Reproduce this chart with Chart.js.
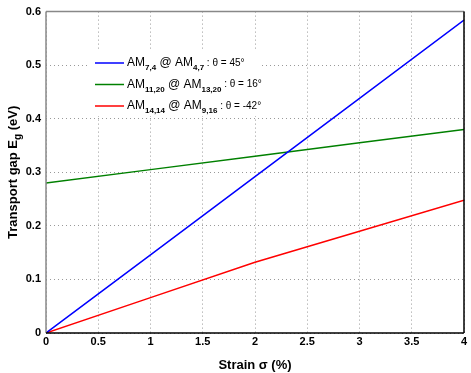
<!DOCTYPE html>
<html>
<head>
<meta charset="utf-8">
<script src="https://cdn.jsdelivr.net/npm/chart.js@4"></script>
<style>
  html, body { margin: 0; padding: 0; background: #fff; }
  #wrap { width: 471px; height: 373px; }
</style>
</head>
<body>
<div id="wrap"><canvas id="gap" width="471" height="373"></canvas></div>
<script>
// strain values (%)
const strain = [0, 1, 2, 3, 4];
// transport gap (eV)
const blueGap = [0, 0.146, 0.292, 0.438, 0.584];
const greenGap = [0.28, 0.305, 0.33, 0.355, 0.38];
const redGap = [0, 0.066, 0.132, 0.19, 0.248];

const xTicks = [0, 0.5, 1, 1.5, 2, 2.5, 3, 3.5, 4];
const yTicks = [0, 0.1, 0.2, 0.3, 0.4, 0.5, 0.6];

// legend entries: [main, sub, main, sub, tail]
const legendItems = [
  { color: "#0000ff", parts: ["AM", "7,4", " @ AM", "4,7", " : θ = 45°"] },
  { color: "#008000", parts: ["AM", "11,20", " @ AM", "13,20", " : θ = 16°"] },
  { color: "#ff0000", parts: ["AM", "14,14", " @ AM", "9,16", " : θ = -42°"] },
];

const font = "'Liberation Sans', Arial, sans-serif";

function pts(ys) {
  return strain.map((x, i) => ({ x: x, y: ys[i] }));
}

const extras = {
  id: "extras",
  afterDraw(chart) {
    const c = chart.ctx;
    const a = chart.chartArea;
    c.save();
    // frame top + right
    c.lineWidth = 1.5;
    c.strokeStyle = "#888";
    c.beginPath();
    c.moveTo(a.left, a.top);
    c.lineTo(a.right, a.top);
    c.stroke();
    c.beginPath();
    c.moveTo(a.left, a.top);
    c.lineTo(a.left, a.bottom);
    c.stroke();
    c.strokeStyle = "#000";
    c.beginPath();
    c.moveTo(a.right, a.top);
    c.lineTo(a.right, a.bottom);
    c.stroke();
    c.beginPath();
    c.moveTo(a.left, a.bottom);
    c.lineTo(a.right, a.bottom);
    c.stroke();

    // legend
    c.fillStyle = "#fff";
    c.fillRect(89, 50, 172, 66);
    let y = 63;
    legendItems.forEach(item => {
      c.strokeStyle = item.color;
      c.lineWidth = 1.5;
      c.beginPath();
      c.moveTo(95, y);
      c.lineTo(124, y);
      c.stroke();
      let x = 127;
      c.fillStyle = "#000";
      c.textBaseline = "middle";
      c.textAlign = "left";
      item.parts.forEach((p, i) => {
        const sub = i % 2 === 1;
        c.font = (sub ? "bold 8px " : "12px ") + font;
        if (i === 4) c.font = "10px " + font;
        c.fillText(p, x, sub ? y + 5 : y);
        x += c.measureText(p).width;
      });
      y += 21.5;
    });

    // y title with subscript
    c.translate(13, (a.top + a.bottom) / 2);
    c.rotate(-Math.PI / 2);
    c.textBaseline = "middle";
    const t1 = "Transport gap E";
    const t2 = "g";
    const t3 = " (eV)";
    c.font = "bold 13px " + font;
    const w1 = c.measureText(t1).width;
    const w3 = c.measureText(t3).width;
    c.font = "bold 10px " + font;
    const w2 = c.measureText(t2).width;
    let x0 = -(w1 + w2 + w3) / 2;
    c.font = "bold 13px " + font;
    c.fillText(t1, x0, 0);
    c.font = "bold 10px " + font;
    c.fillText(t2, x0 + w1, 5);
    c.font = "bold 13px " + font;
    c.fillText(t3, x0 + w1 + w2, 0);
    c.restore();
  }
};

new Chart(document.getElementById("gap"), {
  type: "line",
  data: {
    datasets: [
      { data: pts(blueGap), borderColor: "#0000ff" },
      { data: pts(greenGap), borderColor: "#008000" },
      { data: pts(redGap), borderColor: "#ff0000" },
    ].map(d => Object.assign(d, { borderWidth: 1.5, pointRadius: 0, tension: 0, fill: false })),
  },
  options: {
    responsive: false,
    animation: false,
    events: [],
    layout: { padding: { top: 7, right: 7, left: 0, bottom: 0 } },
    plugins: { legend: { display: false }, tooltip: { enabled: false } },
    scales: {
      x: {
        type: "linear",
        min: 0,
        max: 4,
        afterBuildTicks: s => { s.ticks = xTicks.map(v => ({ value: v })); },
        afterFit: s => { s.height = 40; },
        ticks: {
          color: "#000",
          font: { family: font, size: 11, weight: "bold" },
          padding: 2,
          maxRotation: 0,
          callback: v => String(v),
        },
        grid: { color: "#999", drawTicks: false, lineWidth: 1 },
        border: { display: false, dash: [1, 3] },
        title: {
          display: true,
          text: "Strain σ (%)",
          color: "#000",
          font: { family: font, size: 13, weight: "bold" },
          padding: { top: 4, bottom: 0 },
        },
      },
      y: {
        type: "linear",
        min: 0,
        max: 0.6,
        afterBuildTicks: s => { s.ticks = yTicks.map(v => ({ value: v })); },
        afterFit: s => { s.width = 46; },
        ticks: {
          color: "#000",
          font: { family: font, size: 11, weight: "bold" },
          padding: 5,
          callback: v => String(v),
        },
        grid: { color: "#999", drawTicks: false, lineWidth: 1 },
        border: { display: false, dash: [1, 3] },
      },
    },
  },
  plugins: [extras],
});
</script>
</body>
</html>
